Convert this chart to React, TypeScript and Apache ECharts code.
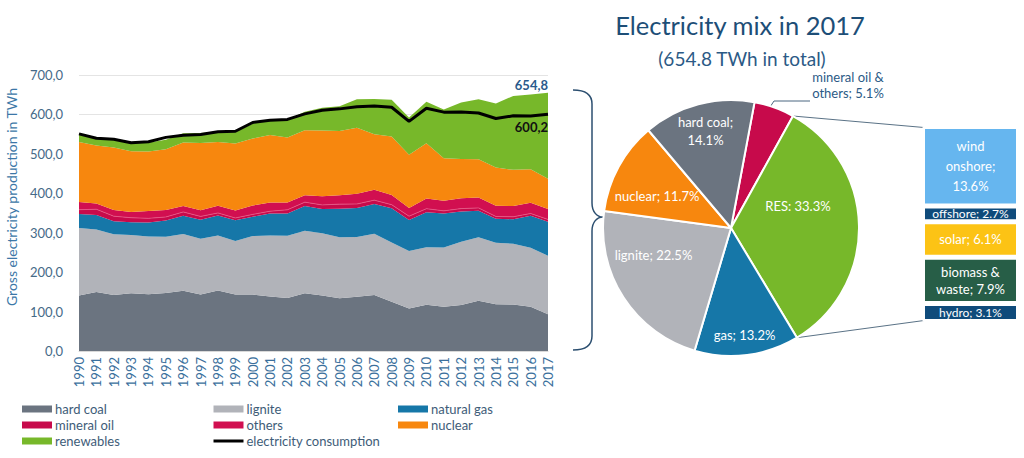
import React, { useEffect, useRef } from "react";
import * as echarts from "echarts";

const years = [
  "1990","1991","1992","1993","1994","1995","1996","1997","1998","1999",
  "2000","2001","2002","2003","2004","2005","2006","2007","2008","2009",
  "2010","2011","2012","2013","2014","2015","2016","2017",
];
const hardCoal = [140.8,149.8,141.9,146.6,144.2,147.1,152.7,143.1,153.4,143.1,143.1,138.4,134.6,146.5,140.8,134.1,137.9,142.0,124.6,107.9,117.0,112.4,116.4,127.3,118.6,117.7,112.2,92.9];
const lignite = [170.9,158.3,154.3,147.5,146.1,142.6,144.3,141.7,139.4,136.0,148.3,154.8,158.0,158.2,158.0,154.1,151.1,155.1,150.6,145.6,145.9,150.1,160.7,160.9,155.8,154.5,149.5,148.4];
const naturalGas = [35.9,36.6,32.9,32.6,35.8,41.1,45.9,48.0,50.9,52.3,49.2,55.5,56.3,62.9,61.4,72.7,73.4,75.9,86.7,78.8,89.3,86.1,76.4,67.5,61.1,62.0,81.3,86.7];
const mineralOil = [10.8,14.8,12.8,11.3,10.3,9.1,9.7,8.6,6.4,5.9,5.9,5.8,9.2,9.9,10.3,11.6,10.5,9.6,9.2,9.6,8.7,6.8,7.6,7.2,5.7,6.2,5.8,5.6];
const others = [19.3,14.4,15.7,14.8,18.5,17.9,14.9,15.8,18.5,18.9,22.6,22.0,18.7,17.4,21.8,22.6,26.0,26.4,24.3,20.7,25.7,25.4,26.5,26.1,27.0,27.3,27.3,26.8];
const nuclear = [152.5,147.4,158.8,153.5,151.2,154.1,161.6,170.3,161.6,170.0,169.6,171.3,164.8,165.1,167.1,163.0,167.3,140.5,148.5,134.9,140.6,108.0,99.5,97.3,97.1,91.8,84.9,76.3];
const renewables = [19.7,18.9,20.9,21.1,22.4,24.1,23.4,25.1,26.5,30.1,37.9,38.5,45.1,46.7,57.3,62.5,72.5,89.4,93.3,95.0,105.2,124.0,143.0,152.4,162.5,187.4,189.7,218.1];
const consumption = [550.7,539.6,537.2,528.2,530.9,541.8,547.1,549.1,556.3,557.3,579.6,585.1,587.4,601.4,610.6,614.1,619.2,621.5,618.2,582.4,615.5,605.8,606.0,603.7,589.6,596.4,596.3,600.2];
const yTicks = [0, 100, 200, 300, 400, 500, 600, 700];

const pieNames = ["mineral oil &\nothers", "RES", "gas", "lignite", "nuclear", "hard coal"];
const pieValues = [5.1, 33.3, 13.2, 22.5, 11.7, 14.1];

const resNames = ["wind\nonshore", "offshore", "solar", "biomass &\nwaste", "hydro"];
const resValues = [13.6, 2.7, 6.1, 7.9, 3.1];

const FONT = "Lato";
const C = {
  hardCoal: "#6b7480",
  lignite: "#b1b3b9",
  gas: "#1677a8",
  oil: "#c70a4b",
  others: "#d10f50",
  nuclear: "#f7870e",
  res: "#77b82a",
};
const pieColors = [C.oil, C.res, C.gas, C.lignite, C.nuclear, C.hardCoal];
const resColors = ["#66b6ef", "#0f4b7b", "#fcc315", "#275e47", "#0f4b7b"];

const PIE_CX = 731;
const PIE_CY = 228;
const PIE_R = 128;
const PIE_START = 79.4;
const labelRadius = [1, 0.55, 0.84, 0.64, 0.63, 0.78];
const labelAngleShift = [0, 17, 0, -14, 5, 0];

const BAR_LEFT = 922.5;
const BAR_TOP = 126.5;
const BAR_W = 96;
const BAR_H = 195;

function sliceAngles() {
  const total = pieValues.reduce((a, b) => a + b, 0);
  let cum = 0;
  return pieValues.map((v) => {
    const a0 = PIE_START - (cum / total) * 360;
    cum += v;
    const a1 = PIE_START - (cum / total) * 360;
    return [a0, a1];
  });
}
function polar(deg: number, r: number) {
  const rad = (deg * Math.PI) / 180;
  return [PIE_CX + r * Math.cos(rad), PIE_CY - r * Math.sin(rad)];
}

export default function App() {
  const ref = useRef<HTMLDivElement>(null);
  useEffect(() => {
    document.body.style.margin = "0";
    const chart = echarts.init(ref.current!, null, { renderer: "svg" });
    const last = years.length - 1;
    const totals = years.map(
      (_, i) => hardCoal[i] + lignite[i] + naturalGas[i] + mineralOil[i] + others[i] + nuclear[i] + renewables[i]
    );
    const fmt = (v: number) => v.toFixed(1).replace(".", ",");

    const area = (name: string, data: number[], color: string, extra: any = {}) => ({
      name,
      type: "line",
      stack: "total",
      data,
      symbol: "none",
      xAxisIndex: 0,
      yAxisIndex: 0,
      lineStyle: { width: 0, color },
      itemStyle: { color },
      areaStyle: { color, opacity: 1 },
      ...extra,
    });

    const angles = sliceAngles();
    const resTop = polar(angles[1][0], PIE_R);
    const resBottom = polar(angles[1][1], PIE_R);

    echarts.graphic.registerShape(
      "brace",
      echarts.graphic.extendPath(
        "M0,0 C12,0 19,4 19,14 L19,113 C19,122 24,127 30,127 C24,127 19,132 19,141 L19,246 C19,256 12,260 0,260",
        {}
      )
    );

    const resLabel = (p: any) => {
      const n = p.seriesName;
      if (n.startsWith("wind")) return `${n};\n${p.value}%`;
      return `${n}; ${p.value}%`;
    };

    const legendBase = {
      top: 401,
      orient: "vertical",
      itemWidth: 30,
      itemHeight: 7,
      itemGap: 0,
      padding: 0,
      textStyle: { fontFamily: FONT, fontSize: 13, color: "#3e5c78", lineHeight: 16, padding: [0, 0, 0, -2] },
    };

    const option: any = {
      animation: false,
      textStyle: { fontFamily: FONT },
      title: [
        {
          text: "Electricity mix in 2017",
          left: 735,
          top: 7,
          textAlign: "center",
          textStyle: { fontFamily: FONT, fontSize: 25.5, fontWeight: "normal", color: "#1d4e77" },
        },
        {
          text: "(654.8 TWh in total)",
          left: 737,
          top: 44,
          textAlign: "center",
          textStyle: { fontFamily: FONT, fontSize: 19, fontWeight: "normal", color: "#2b5a86" },
        },
      ],
      legend: [
        {
          ...legendBase,
          left: 22,
          data: [
            { name: "hard coal", icon: "rect" },
            { name: "mineral oil", icon: "rect" },
            { name: "renewables", icon: "rect" },
          ],
        },
        {
          ...legendBase,
          left: 212,
          data: [
            { name: "lignite", icon: "rect" },
            { name: "others", icon: "rect" },
            { name: "electricity consumption", itemStyle: { opacity: 0 }, lineStyle: { width: 3, color: "#000" } },
          ],
        },
        {
          ...legendBase,
          left: 398,
          data: [
            { name: "natural gas", icon: "rect" },
            { name: "nuclear", icon: "rect" },
          ],
        },
      ],
      grid: [
        { left: 79, top: 75, width: 469, height: 276, containLabel: false },
        { left: BAR_LEFT, top: BAR_TOP, width: BAR_W, height: BAR_H, containLabel: false },
      ],
      xAxis: [
        {
          type: "category",
          gridIndex: 0,
          data: years,
          boundaryGap: false,
          axisLine: { lineStyle: { color: "#d9d9d9" } },
          axisTick: { show: false },
          axisLabel: { rotate: 90, fontSize: 13, color: "#3a6f9c", margin: 6, interval: 0, fontFamily: FONT },
        },
        { type: "category", gridIndex: 1, data: ["RES"], show: false },
      ],
      yAxis: [
        {
          type: "value",
          gridIndex: 0,
          min: 0,
          max: 700,
          interval: 100,
          axisLine: { show: false },
          axisTick: { show: false },
          splitLine: { lineStyle: { color: "#e4e4e4" } },
          axisLabel: {
            fontSize: 13,
            color: "#456a88",
            margin: 16,
            fontFamily: FONT,
            formatter: (v: number) => (yTicks.indexOf(v) >= 0 ? fmt(v) : ""),
          },
          name: "Gross electricity production in TWh",
          nameLocation: "middle",
          nameGap: 61,
          nameTextStyle: { fontSize: 14, color: "#3c77a7", fontFamily: FONT, padding: [0, 0, 0, 32] },
        },
        {
          type: "value",
          gridIndex: 1,
          min: 0,
          max: resValues.reduce((a, b) => a + b, 0),
          inverse: true,
          show: false,
        },
      ],
      series: [
        area("hard coal", hardCoal, C.hardCoal),
        area("lignite", lignite, C.lignite),
        area("natural gas", naturalGas, C.gas),
        area("mineral oil", mineralOil, C.oil, { lineStyle: { width: 0.8, color: "#e65a86" } }),
        area("others", others, C.others),
        area("nuclear", nuclear, C.nuclear),
        area("renewables", renewables, C.res, {
          endLabel: {
            show: true,
            formatter: () => fmt(totals[last]),
            color: "#2a5a8c",
            fontWeight: "bold",
            fontSize: 13,
            fontFamily: FONT,
            align: "right",
            verticalAlign: "bottom",
            distance: 0,
            offset: [0, -1],
          },
        }),
        {
          name: "electricity consumption",
          type: "line",
          data: consumption,
          symbol: "none",
          xAxisIndex: 0,
          yAxisIndex: 0,
          lineStyle: { width: 3, color: "#000" },
          itemStyle: { color: "#000" },
          z: 5,
          endLabel: {
            show: true,
            formatter: () => fmt(consumption[last]),
            color: "#111",
            fontWeight: "bold",
            fontSize: 13,
            fontFamily: FONT,
            align: "right",
            verticalAlign: "top",
            distance: 0,
            offset: [0, 6],
          },
        },
        {
          type: "pie",
          center: [PIE_CX, PIE_CY],
          radius: PIE_R,
          startAngle: PIE_START,
          clockwise: true,
          itemStyle: { borderColor: "#fff", borderWidth: 2 },
          label: {
            show: true,
            position: "inside",
            color: "#fff",
            fontSize: 13,
            lineHeight: 18,
            fontFamily: FONT,
            formatter: (p: any) => {
              if (p.dataIndex === 1) return `${p.name}: ${p.value}%`;
              if (p.dataIndex === 5) return `${p.name};\n${p.value}%`;
              return `${p.name}; ${p.value}%`;
            },
          },
          labelLine: { show: false },
          labelLayout: (p: any) => {
            const i = p.dataIndex;
            const [a0, a1] = angles[i];
            const mid = (a0 + a1) / 2 + labelAngleShift[i];
            if (i === 0) {
              return { x: 848, y: 101, align: "center", verticalAlign: "bottom" };
            }
            const [x, y] = polar(mid, PIE_R * labelRadius[i]);
            return { x, y, align: "center", verticalAlign: "middle" };
          },
          data: pieValues.map((v, i) =>
            i === 0
              ? {
                  name: pieNames[i],
                  value: v,
                  itemStyle: { color: pieColors[i] },
                  label: { color: "#2b5a86", lineHeight: 16 },
                }
              : { name: pieNames[i], value: v, itemStyle: { color: pieColors[i] } }
          ),
        },
        ...resNames.map((n, i) => ({
          name: n,
          type: "bar",
          stack: "res",
          xAxisIndex: 1,
          yAxisIndex: 1,
          barWidth: "100%",
          z: 10 - i,
          data: [resValues[i]],
          itemStyle: { color: resColors[i], borderColor: "#fff", borderWidth: 2.5 },
          label: {
            show: true,
            position: "inside",
            color: "#fff",
            fontSize: resValues[i] < 5 ? 12 : 13,
            lineHeight: resValues[i] < 5 ? 12 : i === 0 ? 20 : 17,
            fontFamily: FONT,
            formatter: resLabel,
          },
        })),
      ],
      graphic: [
        {
          type: "brace",
          x: 573,
          y: 90,
          style: { stroke: "#2c4f70", lineWidth: 1.5, fill: "none" },
          silent: true,
        },
        {
          type: "polyline",
          shape: { points: [polar(angles[0][0] - 6, PIE_R + 1).map((v, k) => (k === 1 ? v + 6 : v)), [774, 101], [810, 101]] },
          style: { stroke: "#4a6680", lineWidth: 1, fill: "none" },
          silent: true,
        },
        {
          type: "line",
          shape: { x1: resTop[0], y1: resTop[1], x2: BAR_LEFT + 1.5, y2: BAR_TOP + 1 },
          style: { stroke: "#5a7286", lineWidth: 1 },
          silent: true,
        },
        {
          type: "line",
          shape: { x1: resBottom[0], y1: resBottom[1], x2: BAR_LEFT + 1.5, y2: BAR_TOP + BAR_H - 1 },
          style: { stroke: "#5a7286", lineWidth: 1 },
          silent: true,
        },
      ],
    };
    chart.setOption(option);
    return () => chart.dispose();
  }, []);
  return <div ref={ref} style={{ width: 1024, height: 458 }} />;
}
